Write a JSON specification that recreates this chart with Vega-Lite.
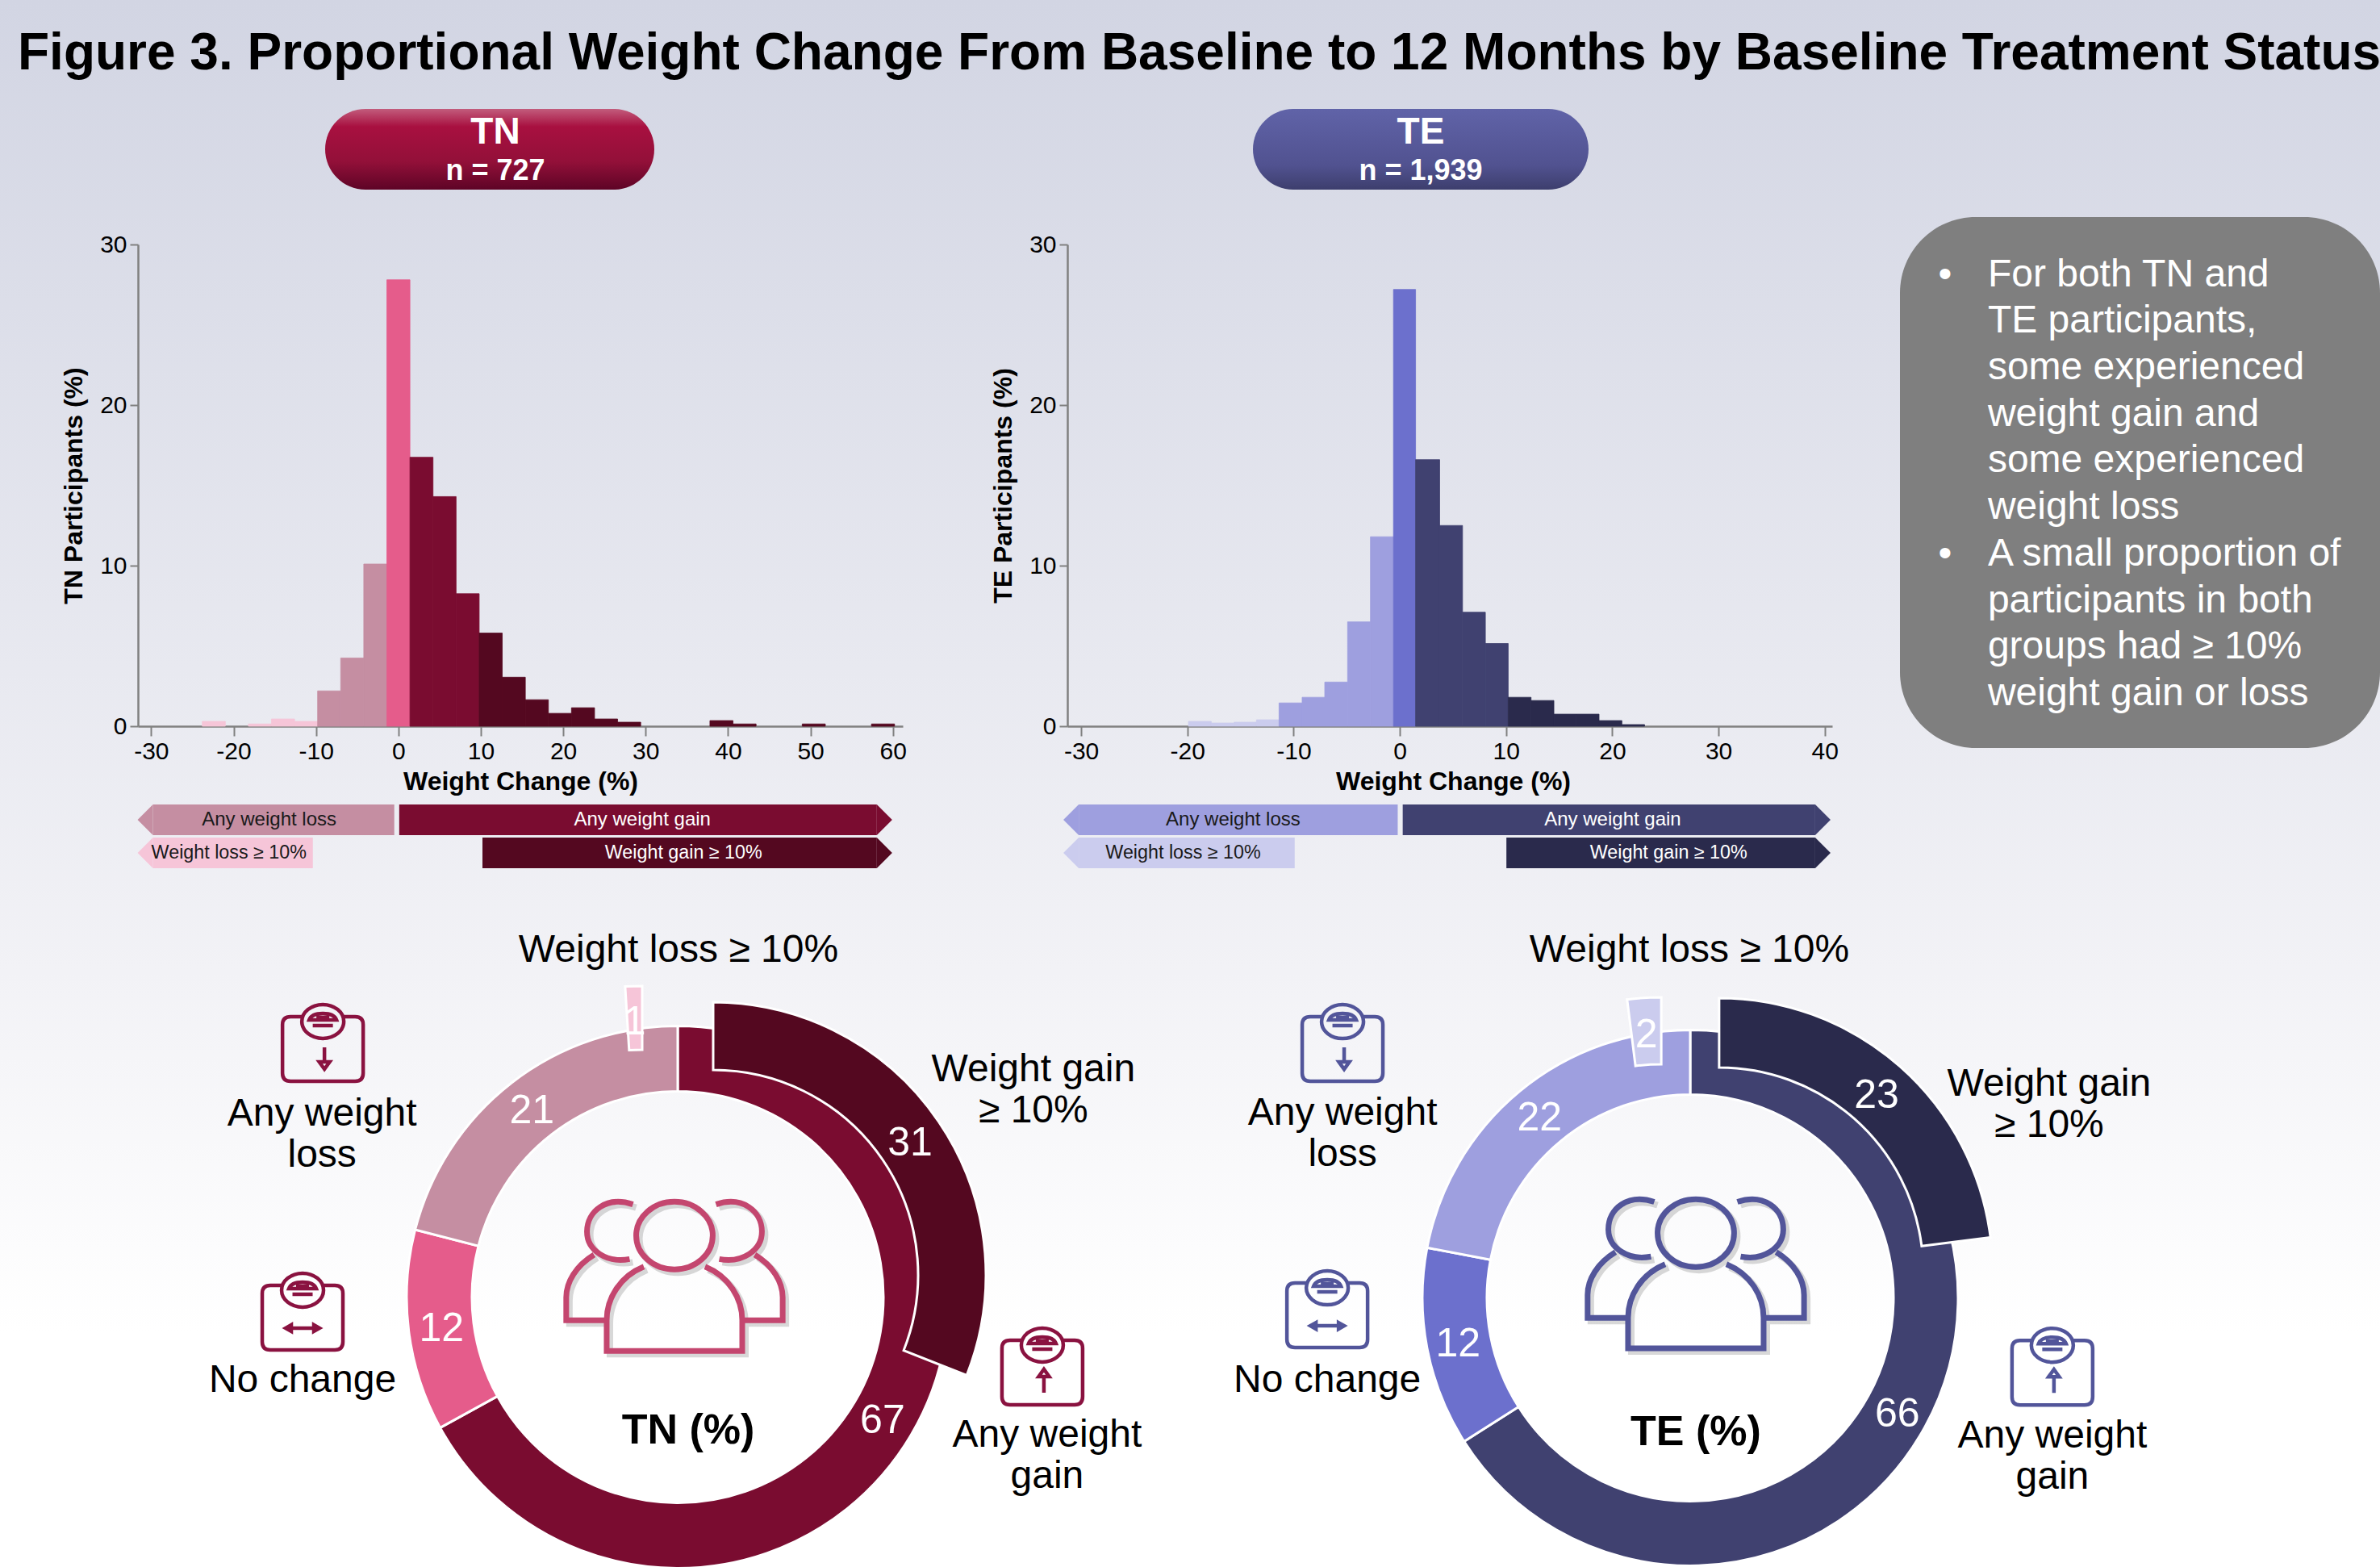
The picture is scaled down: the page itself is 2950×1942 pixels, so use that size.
{
"$schema":"https://vega.github.io/schema/vega-lite/v6.json",
"width":2950,"height":1942,"padding":0,"autosize":"none",
"background":"#ffffff",
"view":{"stroke":null,"fill":{"gradient":"linear","x1":0,"y1":0,"x2":0,"y2":1,"stops":[{"offset":0,"color":"#D2D5E3"},{"offset":0.62,"color":"#F2F2F6"},{"offset":0.85,"color":"#FFFFFF"},{"offset":1,"color":"#FFFFFF"}]}},
"config":{"font":"Liberation Sans","view":{"stroke":null},"axis":{"grid":false,"domainColor":"#808080","tickColor":"#808080","domainWidth":2.5,"tickWidth":2,"labelColor":"#000000","titleColor":"#000000","labelFontSize":30,"titleFontSize":32,"titleFontWeight":"bold","labelOverlap":false,"labelFlush":false,"labelBound":false,"labelExpr":"''+datum.value"}},
"title":{"text":"Figure 3. Proportional Weight Change From Baseline to 12 Months by Baseline Treatment Status","anchor":"start","frame":"group","orient":"top","offset":-150,"dx":22,"baseline":"alphabetic","fontSize":64,"fontWeight":"bold","color":"#000000"},
"resolve":{"scale":{"x":"independent","y":"independent","color":"independent","theta":"independent","shape":"independent","stroke":"independent"},"axis":{"x":"independent","y":"independent"}},
"layer":[
{"data":{"values":[{"group":"TN","n":"n = 727"},{"group":"TE","n":"n = 1,939"}]},
 "encoding":{"x":{"field":"group","type":"nominal","axis":null,"scale":{"domain":["TN","TE"],"range":[-258.5,2626.5],"padding":0.5}},"y":{"field":"group","type":"nominal","axis":null,"scale":{"domain":["TN","TE"],"range":[185,185],"padding":0.5}}},
 "layer":[
 {"transform":[{"filter":"datum.group=='TN'"}],"mark":{"type":"rect","width":408,"height":100,"cornerRadius":50,"fill":{"gradient":"linear","x1":0,"y1":0,"x2":0,"y2":1,"stops":[{"offset":0,"color":"#C25C7C"},{"offset":0.22,"color":"#A81040"},{"offset":0.65,"color":"#931039"},{"offset":1,"color":"#5E0426"}]}}},
 {"transform":[{"filter":"datum.group=='TE'"}],"mark":{"type":"rect","width":416,"height":100,"cornerRadius":50,"fill":{"gradient":"linear","x1":0,"y1":0,"x2":0,"y2":1,"stops":[{"offset":0,"color":"#6063A8"},{"offset":0.7,"color":"#515290"},{"offset":1,"color":"#3D3E6D"}]}}},
 {"transform":[{"filter":"datum.group=='TN'"}],"mark":{"type":"text","dx":7,"dy":-21,"fontSize":46,"fontWeight":"bold","color":"#ffffff","align":"center","baseline":"middle"},"encoding":{"text":{"field":"group"}}},
 {"transform":[{"filter":"datum.group=='TN'"}],"mark":{"type":"text","dx":7,"dy":27,"fontSize":36,"fontWeight":"bold","color":"#ffffff","align":"center","baseline":"middle"},"encoding":{"text":{"field":"n"}}},
 {"transform":[{"filter":"datum.group=='TE'"}],"mark":{"type":"text","dy":-21,"fontSize":46,"fontWeight":"bold","color":"#ffffff","align":"center","baseline":"middle"},"encoding":{"text":{"field":"group"}}},
 {"transform":[{"filter":"datum.group=='TE'"}],"mark":{"type":"text","dy":27,"fontSize":36,"fontWeight":"bold","color":"#ffffff","align":"center","baseline":"middle"},"encoding":{"text":{"field":"n"}}}
 ]},
{"data":{"values":[
{"x0":-23.8,"x1":-21,"pct":0.3,"cat":"Weight loss ≥ 10%"},{"x0":-18.2,"x1":-15.4,"pct":0.14,"cat":"Weight loss ≥ 10%"},{"x0":-15.4,"x1":-12.6,"pct":0.45,"cat":"Weight loss ≥ 10%"},{"x0":-12.6,"x1":-9.8,"pct":0.3,"cat":"Weight loss ≥ 10%"},
{"x0":-9.8,"x1":-7,"pct":2.2,"cat":"Any weight loss"},{"x0":-7,"x1":-4.2,"pct":4.25,"cat":"Any weight loss"},{"x0":-4.2,"x1":-1.4,"pct":10.1,"cat":"Any weight loss"},
{"x0":-1.4,"x1":1.4,"pct":27.8,"cat":"No change"},
{"x0":1.4,"x1":4.2,"pct":16.75,"cat":"Any weight gain"},{"x0":4.2,"x1":7,"pct":14.3,"cat":"Any weight gain"},{"x0":7,"x1":9.8,"pct":8.25,"cat":"Any weight gain"},
{"x0":9.8,"x1":12.6,"pct":5.8,"cat":"Weight gain ≥ 10%"},{"x0":12.6,"x1":15.4,"pct":3.05,"cat":"Weight gain ≥ 10%"},{"x0":15.4,"x1":18.2,"pct":1.65,"cat":"Weight gain ≥ 10%"},{"x0":18.2,"x1":21,"pct":0.8,"cat":"Weight gain ≥ 10%"},{"x0":21,"x1":23.8,"pct":1.15,"cat":"Weight gain ≥ 10%"},{"x0":23.8,"x1":26.6,"pct":0.45,"cat":"Weight gain ≥ 10%"},{"x0":26.6,"x1":29.4,"pct":0.25,"cat":"Weight gain ≥ 10%"},{"x0":37.8,"x1":40.6,"pct":0.35,"cat":"Weight gain ≥ 10%"},{"x0":40.6,"x1":43.4,"pct":0.14,"cat":"Weight gain ≥ 10%"},{"x0":49,"x1":51.8,"pct":0.14,"cat":"Weight gain ≥ 10%"},{"x0":57.4,"x1":60.2,"pct":0.14,"cat":"Weight gain ≥ 10%"}]},
 "mark":{"type":"rect","strokeWidth":0.8},
 "encoding":{
 "x":{"field":"x0","type":"quantitative","scale":{"domain":[-31.6,61.2],"range":[171,1119],"nice":false,"zero":false},"axis":{"orient":"bottom","offset":-1042,"values":[-30,-20,-10,0,10,20,30,40,50,60],"title":"Weight Change (%)","tickSize":12,"labelPadding":4,"titlePadding":7}},
 "x2":{"field":"x1"},
 "y":{"field":"pct","type":"quantitative","scale":{"domain":[0,30],"range":[900,303],"nice":false,"zero":false},"axis":{"orient":"left","offset":-171,"values":[0,10,20,30],"title":"TN Participants (%)","tickSize":10,"labelPadding":4,"titlePadding":15}},
 "y2":{"datum":0},
 "color":{"field":"cat","type":"nominal","legend":null,"scale":{"domain":["Weight loss ≥ 10%","Any weight loss","No change","Any weight gain","Weight gain ≥ 10%"],"range":["#F6C5D8","#C58EA2","#E55C8B","#7A0C30","#540820"]}},
 "stroke":{"field":"cat","type":"nominal","legend":null,"scale":{"domain":["Weight loss ≥ 10%","Any weight loss","No change","Any weight gain","Weight gain ≥ 10%"],"range":["#F6C5D8","#C58EA2","#E55C8B","#7A0C30","#540820"]}}}},
{"data":{"values":[
{"x0":-19.9,"x1":-17.75,"pct":0.3,"cat":"Weight loss ≥ 10%"},{"x0":-17.75,"x1":-15.6,"pct":0.2,"cat":"Weight loss ≥ 10%"},{"x0":-15.6,"x1":-13.5,"pct":0.25,"cat":"Weight loss ≥ 10%"},{"x0":-13.5,"x1":-11.37,"pct":0.4,"cat":"Weight loss ≥ 10%"},
{"x0":-11.37,"x1":-9.2,"pct":1.45,"cat":"Any weight loss"},{"x0":-9.2,"x1":-7.07,"pct":1.8,"cat":"Any weight loss"},{"x0":-7.07,"x1":-4.92,"pct":2.75,"cat":"Any weight loss"},{"x0":-4.92,"x1":-2.77,"pct":6.5,"cat":"Any weight loss"},{"x0":-2.77,"x1":-0.6,"pct":11.8,"cat":"Any weight loss"},
{"x0":-0.6,"x1":1.48,"pct":27.2,"cat":"No change"},
{"x0":1.48,"x1":3.75,"pct":16.6,"cat":"Any weight gain"},{"x0":3.75,"x1":5.9,"pct":12.5,"cat":"Any weight gain"},{"x0":5.9,"x1":8.05,"pct":7.1,"cat":"Any weight gain"},{"x0":8.05,"x1":10.2,"pct":5.15,"cat":"Any weight gain"},
{"x0":10.2,"x1":12.35,"pct":1.8,"cat":"Weight gain ≥ 10%"},{"x0":12.35,"x1":14.5,"pct":1.6,"cat":"Weight gain ≥ 10%"},{"x0":14.5,"x1":16.6,"pct":0.75,"cat":"Weight gain ≥ 10%"},{"x0":16.6,"x1":18.75,"pct":0.75,"cat":"Weight gain ≥ 10%"},{"x0":18.75,"x1":20.9,"pct":0.35,"cat":"Weight gain ≥ 10%"},{"x0":20.9,"x1":23.04,"pct":0.1,"cat":"Weight gain ≥ 10%"}]},
 "mark":{"type":"rect","strokeWidth":0.8},
 "encoding":{
 "x":{"field":"x0","type":"quantitative","scale":{"domain":[-31.3,40.7],"range":[1323,2271],"nice":false,"zero":false},"axis":{"orient":"bottom","offset":-1042,"values":[-30,-20,-10,0,10,20,30,40],"title":"Weight Change (%)","titleX":1801,"tickSize":12,"labelPadding":4,"titlePadding":7}},
 "x2":{"field":"x1"},
 "y":{"field":"pct","type":"quantitative","scale":{"domain":[0,30],"range":[900,303],"nice":false,"zero":false},"axis":{"orient":"left","offset":-1323,"values":[0,10,20,30],"title":"TE Participants (%)","tickSize":10,"labelPadding":4,"titlePadding":15}},
 "y2":{"datum":0},
 "color":{"field":"cat","type":"nominal","legend":null,"scale":{"domain":["Weight loss ≥ 10%","Any weight loss","No change","Any weight gain","Weight gain ≥ 10%"],"range":["#CBCCEE","#9E9FDF","#6C70CD","#404170","#2A2A4C"]}},
 "stroke":{"field":"cat","type":"nominal","legend":null,"scale":{"domain":["Weight loss ≥ 10%","Any weight loss","No change","Any weight gain","Weight gain ≥ 10%"],"range":["#CBCCEE","#9E9FDF","#6C70CD","#404170","#2A2A4C"]}}}},
{"data":{"values":[
{"label":"Any weight loss","row":"any","from":-29.78,"to":-0.5,"at":-15.68,"side":"loss"},
{"label":"Any weight gain","row":"any","from":0.1,"to":58.05,"at":29.6,"side":"gain"},
{"label":"Weight loss ≥ 10%","row":"ge10","from":-29.78,"to":-10.38,"at":-20.56,"side":"loss"},
{"label":"Weight gain ≥ 10%","row":"ge10","from":10.2,"to":58.05,"at":34.6,"side":"gain"}]},
 "encoding":{
 "y":{"field":"row","type":"nominal","axis":null,"scale":{"domain":["any","ge10"],"range":[997,1076],"paddingInner":0.07,"paddingOuter":0}},
 "color":{"field":"label","type":"nominal","legend":null,"scale":{"domain":["Weight loss ≥ 10%","Any weight loss","Any weight gain","Weight gain ≥ 10%"],"range":["#F6C5D8","#C58EA2","#7A0C30","#540820"]}}},
 "layer":[
 {"mark":{"type":"rect"},"encoding":{"x":{"field":"from","type":"quantitative","axis":null,"scale":{"domain":[-31.6,61.2],"range":[171,1119],"nice":false,"zero":false}},"x2":{"field":"to"}}},
 {"transform":[{"filter":"datum.side=='loss'"}],"mark":{"type":"point","filled":true,"opacity":1,"size":1444,"shape":"M-1,0 L0,-1 L0,1 Z"},"encoding":{"x":{"field":"from","type":"quantitative","axis":null}}},
 {"transform":[{"filter":"datum.side=='gain'"}],"mark":{"type":"point","filled":true,"opacity":1,"size":1444,"shape":"M1,0 L0,-1 L0,1 Z"},"encoding":{"x":{"field":"to","type":"quantitative","axis":null}}},
 {"transform":[{"filter":"datum.row=='any'"}],"mark":{"type":"text","fontSize":24,"align":"center","baseline":"middle"},"encoding":{"x":{"field":"at","type":"quantitative","axis":null},"text":{"field":"label"},"color":{"condition":{"test":"datum.side=='gain'","value":"#ffffff"},"value":"#1a1a1a"}}},
 {"transform":[{"filter":"datum.row=='ge10'"}],"mark":{"type":"text","fontSize":23.3,"align":"center","baseline":"middle"},"encoding":{"x":{"field":"at","type":"quantitative","axis":null},"text":{"field":"label"},"color":{"condition":{"test":"datum.side=='gain'","value":"#ffffff"},"value":"#1a1a1a"}}}
 ]},
{"data":{"values":[
{"label":"Any weight loss","row":"any","from":-30.23,"to":-0.2,"at":-15.7,"side":"loss"},
{"label":"Any weight gain","row":"any","from":0.27,"to":39.1,"at":20.04,"side":"gain"},
{"label":"Weight loss ≥ 10%","row":"ge10","from":-30.23,"to":-9.9,"at":-20.4,"side":"loss"},
{"label":"Weight gain ≥ 10%","row":"ge10","from":10.03,"to":39.1,"at":25.3,"side":"gain"}]},
 "encoding":{
 "y":{"field":"row","type":"nominal","axis":null,"scale":{"domain":["any","ge10"],"range":[997,1076],"paddingInner":0.07,"paddingOuter":0}},
 "color":{"field":"label","type":"nominal","legend":null,"scale":{"domain":["Weight loss ≥ 10%","Any weight loss","Any weight gain","Weight gain ≥ 10%"],"range":["#CBCCEE","#9E9FDF","#404170","#2A2A4C"]}}},
 "layer":[
 {"mark":{"type":"rect"},"encoding":{"x":{"field":"from","type":"quantitative","axis":null,"scale":{"domain":[-31.3,40.7],"range":[1323,2271],"nice":false,"zero":false}},"x2":{"field":"to"}}},
 {"transform":[{"filter":"datum.side=='loss'"}],"mark":{"type":"point","filled":true,"opacity":1,"size":1444,"shape":"M-1,0 L0,-1 L0,1 Z"},"encoding":{"x":{"field":"from","type":"quantitative","axis":null}}},
 {"transform":[{"filter":"datum.side=='gain'"}],"mark":{"type":"point","filled":true,"opacity":1,"size":1444,"shape":"M1,0 L0,-1 L0,1 Z"},"encoding":{"x":{"field":"to","type":"quantitative","axis":null}}},
 {"transform":[{"filter":"datum.row=='any'"}],"mark":{"type":"text","fontSize":24,"align":"center","baseline":"middle"},"encoding":{"x":{"field":"at","type":"quantitative","axis":null},"text":{"field":"label"},"color":{"condition":{"test":"datum.side=='gain'","value":"#ffffff"},"value":"#1a1a1a"}}},
 {"transform":[{"filter":"datum.row=='ge10'"}],"mark":{"type":"text","fontSize":23.3,"align":"center","baseline":"middle"},"encoding":{"x":{"field":"at","type":"quantitative","axis":null},"text":{"field":"label"},"color":{"condition":{"test":"datum.side=='gain'","value":"#ffffff"},"value":"#1a1a1a"}}}
 ]},
{"data":{"values":[
{"line":1,"text":"For both TN and","bullet":"•"},{"line":2,"text":"TE participants,"},{"line":3,"text":"some experienced"},{"line":4,"text":"weight gain and"},{"line":5,"text":"some experienced"},{"line":6,"text":"weight loss"},
{"line":7,"text":"A small proportion of","bullet":"•"},{"line":8,"text":"participants in both"},{"line":9,"text":"groups had ≥ 10%"},{"line":10,"text":"weight gain or loss"}]},
 "encoding":{"y":{"field":"line","type":"quantitative","axis":null,"scale":{"domain":[1,10],"range":[340.6,860],"nice":false,"zero":false}}},
 "layer":[
 {"transform":[{"filter":"datum.line==1"}],"mark":{"type":"rect","fill":"#7F7F7F","cornerRadius":94},"encoding":{"x":{"datum":0,"type":"quantitative","axis":null,"scale":{"domain":[0,1],"range":[2355,2950],"nice":false,"zero":false}},"x2":{"datum":1},"y":{"datum":-0.24,"type":"quantitative","axis":null},"y2":{"datum":11.16}}},
 {"mark":{"type":"text","fontSize":48,"color":"#ffffff","align":"left","baseline":"middle"},"encoding":{"x":{"datum":0.183,"type":"quantitative","axis":null},"text":{"field":"text"}}},
 {"transform":[{"filter":"isValid(datum.bullet)"}],"mark":{"type":"text","fontSize":48,"color":"#ffffff","align":"center","baseline":"middle"},"encoding":{"x":{"datum":0.094,"type":"quantitative","axis":null},"text":{"field":"bullet"}}}
 ]},
{"resolve":{"scale":{"theta":"independent","color":"independent"}},
 "layer":[
 {"data":{"values":[{"segment":"Any weight gain","value":67,"ord":1},{"segment":"No change","value":12,"ord":2},{"segment":"Any weight loss","value":21,"ord":3}]},
  "encoding":{
  "x":{"datum":0,"type":"quantitative","axis":null,"scale":{"domain":[-1,1],"range":[505,1175],"nice":false,"zero":false}},
  "y":{"datum":0,"type":"quantitative","axis":null,"scale":{"domain":[-1,1],"range":[1942.5,1272.5],"nice":false,"zero":false}},
  "theta":{"field":"value","type":"quantitative","stack":true,"scale":{"domain":[0,100],"range":[0,6.28319]}},
  "order":{"field":"ord","type":"ordinal"}},
  "layer":[
  {"mark":{"type":"arc","radius":336,"radius2":255,"stroke":"#ffffff","strokeWidth":3},"encoding":{"color":{"field":"segment","type":"nominal","legend":null,"scale":{"domain":["Any weight gain","No change","Any weight loss"],"range":["#7A0C30","#E55C8B","#C58EA2"]}}}},
  {"mark":{"type":"text","radius":295,"dy":3,"fontSize":50,"color":"#ffffff","align":"center","baseline":"middle"},"encoding":{"text":{"field":"value","type":"quantitative"}}}
  ]},
 {"data":{"values":[{"segment":"Weight gain ≥ 10%","value":31}]},
  "encoding":{
  "x":{"datum":0.1313,"type":"quantitative","axis":null},
  "y":{"datum":0.082,"type":"quantitative","axis":null},
  "theta":{"field":"value","type":"quantitative","stack":true,"scale":{"domain":[0,100],"range":[0,6.28319]}}},
  "layer":[
  {"mark":{"type":"arc","radius":338,"radius2":254,"stroke":"#ffffff","strokeWidth":3,"fill":"#540820"}},
  {"mark":{"type":"text","radius":295,"dy":3,"fontSize":50,"color":"#ffffff","align":"center","baseline":"middle"},"encoding":{"text":{"field":"value","type":"quantitative"}}}
  ]},
 {"data":{"values":[{"segment":"Weight loss ≥ 10%","value":1}]},
  "encoding":{
  "x":{"datum":-0.1313,"type":"quantitative","axis":null},
  "y":{"datum":0.145,"type":"quantitative","axis":null},
  "theta":{"field":"value","type":"quantitative","stack":true,"scale":{"domain":[0,100],"range":[6.28319,0]}}},
  "layer":[
  {"mark":{"type":"arc","radius":337,"radius2":258,"stroke":"#ffffff","strokeWidth":3,"fill":"#F6C5D8"}},
  {"mark":{"type":"text","radius":295,"dy":3,"fontSize":50,"color":"#ffffff","align":"center","baseline":"middle"},"encoding":{"text":{"field":"value","type":"quantitative"}}}
  ]},
 {"data":{"values":[
  {"label":"Weight loss ≥ 10%","rx":0.003,"ry":1.282},
  {"label":"Any weight\nloss","rx":-1.316,"ry":0.677},
  {"label":"No change","rx":-1.388,"ry":-0.309},
  {"label":"Weight gain\n≥ 10%","rx":1.316,"ry":0.839},
  {"label":"Any weight\ngain","rx":1.367,"ry":-0.511}]},
  "mark":{"type":"text","fontSize":48,"lineBreak":"\n","lineHeight":51,"color":"#000000","align":"center","baseline":"middle"},
  "encoding":{"x":{"field":"rx","type":"quantitative","axis":null},"y":{"field":"ry","type":"quantitative","axis":null},"text":{"field":"label"}}},
 {"data":{"values":[{"label":"TN (%)","rx":0.039,"ry":-0.494}]},
  "mark":{"type":"text","fontSize":52,"fontWeight":"bold","color":"#000000","align":"center","baseline":"middle"},
  "encoding":{"x":{"field":"rx","type":"quantitative","axis":null},"y":{"field":"ry","type":"quantitative","axis":null},"text":{"field":"label"}}},
 {"data":{"values":[{"icon":"loss","rx":-1.313,"ry":0.918},{"icon":"none","rx":-1.388,"ry":-0.076},{"icon":"gain","rx":1.349,"ry":-0.279}]},
  "mark":{"type":"point","filled":false,"opacity":1,"size":10000,"strokeWidth":4.5,"color":"#8A1240"},
  "encoding":{"x":{"field":"rx","type":"quantitative","axis":null},"y":{"field":"ry","type":"quantitative","axis":null},
  "shape":{"field":"icon","type":"nominal","legend":null,"scale":{"domain":["loss","none","gain"],"range":[
  "M-0.51,-0.8 L-0.8,-0.8 Q-1,-0.8 -1,-0.6 L-1,0.6 Q-1,0.8 -0.8,0.8 L0.8,0.8 Q1,0.8 1,0.6 L1,-0.6 Q1,-0.8 0.8,-0.8 L0.51,-0.8 M-0.52,-0.68 A0.52,0.42 0 1 1 0.52,-0.68 A0.52,0.42 0 1 1 -0.52,-0.68 Z M-0.34,-0.72 Q-0.28,-0.88 0,-0.88 Q0.28,-0.88 0.34,-0.72 Z M-0.16,-0.78 L0.16,-0.78 M-0.25,-0.58 L0.25,-0.58 M0.04,-0.04 L0.04,0.3 M-0.09,0.32 L0.04,0.5 L0.17,0.32 Z",
  "M-0.51,-0.8 L-0.8,-0.8 Q-1,-0.8 -1,-0.6 L-1,0.6 Q-1,0.8 -0.8,0.8 L0.8,0.8 Q1,0.8 1,0.6 L1,-0.6 Q1,-0.8 0.8,-0.8 L0.51,-0.8 M-0.52,-0.68 A0.52,0.42 0 1 1 0.52,-0.68 A0.52,0.42 0 1 1 -0.52,-0.68 Z M-0.34,-0.72 Q-0.28,-0.88 0,-0.88 Q0.28,-0.88 0.34,-0.72 Z M-0.16,-0.78 L0.16,-0.78 M-0.25,-0.58 L0.25,-0.58 M-0.35,0.26 L0.35,0.26 M-0.28,0.18 L-0.42,0.26 L-0.28,0.34 Z M0.28,0.18 L0.42,0.26 L0.28,0.34 Z",
  "M-0.51,-0.8 L-0.8,-0.8 Q-1,-0.8 -1,-0.6 L-1,0.6 Q-1,0.8 -0.8,0.8 L0.8,0.8 Q1,0.8 1,0.6 L1,-0.6 Q1,-0.8 0.8,-0.8 L0.51,-0.8 M-0.52,-0.68 A0.52,0.42 0 1 1 0.52,-0.68 A0.52,0.42 0 1 1 -0.52,-0.68 Z M-0.34,-0.72 Q-0.28,-0.88 0,-0.88 Q0.28,-0.88 0.34,-0.72 Z M-0.16,-0.78 L0.16,-0.78 M-0.25,-0.58 L0.25,-0.58 M0.04,0.5 L0.04,0.12 M-0.09,0.1 L0.04,-0.08 L0.17,0.1 Z"]}}}},
 {"data":{"values":[{"icon":"people","rx":-0.012,"ry":0.076}]},
  "mark":{"type":"point","filled":false,"opacity":0.45,"size":73441,"strokeWidth":8,"color":"#A9A9A9","xOffset":4,"yOffset":4,"shape":"M-0.35,-0.375 A0.35,0.31 0 1 1 0.35,-0.375 A0.35,0.31 0 1 1 -0.35,-0.375 Z M-0.28,-0.09 C-0.5,0 -0.62,0.2 -0.62,0.4 L-0.62,0.68 L0.62,0.68 L0.62,0.4 C0.62,0.2 0.5,0 0.28,-0.09 M-0.38,-0.66 C-0.62,-0.74 -0.8,-0.6 -0.8,-0.41 C-0.8,-0.24 -0.62,-0.12 -0.41,-0.16 M-0.735,-0.2 C-0.9,-0.1 -0.99,0.05 -0.99,0.19 L-0.99,0.4 L-0.62,0.4 M0.38,-0.66 C0.62,-0.74 0.8,-0.6 0.8,-0.41 C0.8,-0.24 0.62,-0.12 0.41,-0.16 M0.735,-0.2 C0.9,-0.1 0.99,0.05 0.99,0.19 L0.99,0.4 L0.62,0.4"},
  "encoding":{"x":{"field":"rx","type":"quantitative","axis":null},"y":{"field":"ry","type":"quantitative","axis":null}}},
 {"data":{"values":[{"icon":"people","rx":-0.012,"ry":0.076}]},
  "mark":{"type":"point","filled":false,"opacity":1,"size":73441,"strokeWidth":7,"color":"#C4466F","shape":"M-0.35,-0.375 A0.35,0.31 0 1 1 0.35,-0.375 A0.35,0.31 0 1 1 -0.35,-0.375 Z M-0.28,-0.09 C-0.5,0 -0.62,0.2 -0.62,0.4 L-0.62,0.68 L0.62,0.68 L0.62,0.4 C0.62,0.2 0.5,0 0.28,-0.09 M-0.38,-0.66 C-0.62,-0.74 -0.8,-0.6 -0.8,-0.41 C-0.8,-0.24 -0.62,-0.12 -0.41,-0.16 M-0.735,-0.2 C-0.9,-0.1 -0.99,0.05 -0.99,0.19 L-0.99,0.4 L-0.62,0.4 M0.38,-0.66 C0.62,-0.74 0.8,-0.6 0.8,-0.41 C0.8,-0.24 0.62,-0.12 0.41,-0.16 M0.735,-0.2 C0.9,-0.1 0.99,0.05 0.99,0.19 L0.99,0.4 L0.62,0.4"},
  "encoding":{"x":{"field":"rx","type":"quantitative","axis":null},"y":{"field":"ry","type":"quantitative","axis":null}}}
 ]},
{"resolve":{"scale":{"theta":"independent","color":"independent"}},
 "layer":[
 {"data":{"values":[{"segment":"Any weight gain","value":66,"ord":1},{"segment":"No change","value":12,"ord":2},{"segment":"Any weight loss","value":22,"ord":3}]},
  "encoding":{
  "x":{"datum":0,"type":"quantitative","axis":null,"scale":{"domain":[-1,1],"range":[1763,2427],"nice":false,"zero":false}},
  "y":{"datum":0,"type":"quantitative","axis":null,"scale":{"domain":[-1,1],"range":[1940.5,1276.5],"nice":false,"zero":false}},
  "theta":{"field":"value","type":"quantitative","stack":true,"scale":{"domain":[0,100],"range":[0,6.28319]}},
  "order":{"field":"ord","type":"ordinal"}},
  "layer":[
  {"mark":{"type":"arc","radius":332,"radius2":252,"stroke":"#ffffff","strokeWidth":3},"encoding":{"color":{"field":"segment","type":"nominal","legend":null,"scale":{"domain":["Any weight gain","No change","Any weight loss"],"range":["#404170","#6C70CD","#9E9FDF"]}}}},
  {"mark":{"type":"text","radius":293,"dy":3,"fontSize":50,"color":"#ffffff","align":"center","baseline":"middle"},"encoding":{"text":{"field":"value","type":"quantitative"}}}
  ]},
 {"data":{"values":[{"segment":"Weight gain ≥ 10%","value":23}]},
  "encoding":{
  "x":{"datum":0.108,"type":"quantitative","axis":null},
  "y":{"datum":0.098,"type":"quantitative","axis":null},
  "theta":{"field":"value","type":"quantitative","stack":true,"scale":{"domain":[0,100],"range":[0,6.28319]}}},
  "layer":[
  {"mark":{"type":"arc","radius":339,"radius2":253,"stroke":"#ffffff","strokeWidth":3,"fill":"#2A2A4C"}},
  {"mark":{"type":"text","radius":295,"dy":3,"fontSize":50,"color":"#ffffff","align":"center","baseline":"middle"},"encoding":{"text":{"field":"value","type":"quantitative"}}}
  ]},
 {"data":{"values":[{"segment":"Weight loss ≥ 10%","value":2}]},
  "encoding":{
  "x":{"datum":-0.108,"type":"quantitative","axis":null},
  "y":{"datum":0.104,"type":"quantitative","axis":null},
  "theta":{"field":"value","type":"quantitative","stack":true,"scale":{"domain":[0,100],"range":[6.28319,0]}}},
  "layer":[
  {"mark":{"type":"arc","radius":338,"radius2":255,"stroke":"#ffffff","strokeWidth":3,"fill":"#CBCCEE"}},
  {"mark":{"type":"text","radius":295,"dy":3,"fontSize":50,"color":"#ffffff","align":"center","baseline":"middle"},"encoding":{"text":{"field":"value","type":"quantitative"}}}
  ]},
 {"data":{"values":[
  {"label":"Weight loss ≥ 10%","rx":-0.003,"ry":1.297},
  {"label":"Any weight\nloss","rx":-1.298,"ry":0.687},
  {"label":"No change","rx":-1.355,"ry":-0.309},
  {"label":"Weight gain\n≥ 10%","rx":1.34,"ry":0.798},
  {"label":"Any weight\ngain","rx":1.352,"ry":-0.518}]},
  "mark":{"type":"text","fontSize":48,"lineBreak":"\n","lineHeight":51,"color":"#000000","align":"center","baseline":"middle"},
  "encoding":{"x":{"field":"rx","type":"quantitative","axis":null},"y":{"field":"ry","type":"quantitative","axis":null},"text":{"field":"label"}}},
 {"data":{"values":[{"label":"TE (%)","rx":0.021,"ry":-0.501}]},
  "mark":{"type":"text","fontSize":52,"fontWeight":"bold","color":"#000000","align":"center","baseline":"middle"},
  "encoding":{"x":{"field":"rx","type":"quantitative","axis":null},"y":{"field":"ry","type":"quantitative","axis":null},"text":{"field":"label"}}},
 {"data":{"values":[{"icon":"loss","rx":-1.298,"ry":0.929},{"icon":"none","rx":-1.355,"ry":-0.065},{"icon":"gain","rx":1.352,"ry":-0.279}]},
  "mark":{"type":"point","filled":false,"opacity":1,"size":10000,"strokeWidth":4.5,"color":"#52559A"},
  "encoding":{"x":{"field":"rx","type":"quantitative","axis":null},"y":{"field":"ry","type":"quantitative","axis":null},
  "shape":{"field":"icon","type":"nominal","legend":null,"scale":{"domain":["loss","none","gain"],"range":[
  "M-0.51,-0.8 L-0.8,-0.8 Q-1,-0.8 -1,-0.6 L-1,0.6 Q-1,0.8 -0.8,0.8 L0.8,0.8 Q1,0.8 1,0.6 L1,-0.6 Q1,-0.8 0.8,-0.8 L0.51,-0.8 M-0.52,-0.68 A0.52,0.42 0 1 1 0.52,-0.68 A0.52,0.42 0 1 1 -0.52,-0.68 Z M-0.34,-0.72 Q-0.28,-0.88 0,-0.88 Q0.28,-0.88 0.34,-0.72 Z M-0.16,-0.78 L0.16,-0.78 M-0.25,-0.58 L0.25,-0.58 M0.04,-0.04 L0.04,0.3 M-0.09,0.32 L0.04,0.5 L0.17,0.32 Z",
  "M-0.51,-0.8 L-0.8,-0.8 Q-1,-0.8 -1,-0.6 L-1,0.6 Q-1,0.8 -0.8,0.8 L0.8,0.8 Q1,0.8 1,0.6 L1,-0.6 Q1,-0.8 0.8,-0.8 L0.51,-0.8 M-0.52,-0.68 A0.52,0.42 0 1 1 0.52,-0.68 A0.52,0.42 0 1 1 -0.52,-0.68 Z M-0.34,-0.72 Q-0.28,-0.88 0,-0.88 Q0.28,-0.88 0.34,-0.72 Z M-0.16,-0.78 L0.16,-0.78 M-0.25,-0.58 L0.25,-0.58 M-0.35,0.26 L0.35,0.26 M-0.28,0.18 L-0.42,0.26 L-0.28,0.34 Z M0.28,0.18 L0.42,0.26 L0.28,0.34 Z",
  "M-0.51,-0.8 L-0.8,-0.8 Q-1,-0.8 -1,-0.6 L-1,0.6 Q-1,0.8 -0.8,0.8 L0.8,0.8 Q1,0.8 1,0.6 L1,-0.6 Q1,-0.8 0.8,-0.8 L0.51,-0.8 M-0.52,-0.68 A0.52,0.42 0 1 1 0.52,-0.68 A0.52,0.42 0 1 1 -0.52,-0.68 Z M-0.34,-0.72 Q-0.28,-0.88 0,-0.88 Q0.28,-0.88 0.34,-0.72 Z M-0.16,-0.78 L0.16,-0.78 M-0.25,-0.58 L0.25,-0.58 M0.04,0.5 L0.04,0.12 M-0.09,0.1 L0.04,-0.08 L0.17,0.1 Z"]}}}},
 {"data":{"values":[{"icon":"people","rx":0.021,"ry":0.089}]},
  "mark":{"type":"point","filled":false,"opacity":0.45,"size":73441,"strokeWidth":8,"color":"#A9A9A9","xOffset":4,"yOffset":4,"shape":"M-0.35,-0.375 A0.35,0.31 0 1 1 0.35,-0.375 A0.35,0.31 0 1 1 -0.35,-0.375 Z M-0.28,-0.09 C-0.5,0 -0.62,0.2 -0.62,0.4 L-0.62,0.68 L0.62,0.68 L0.62,0.4 C0.62,0.2 0.5,0 0.28,-0.09 M-0.38,-0.66 C-0.62,-0.74 -0.8,-0.6 -0.8,-0.41 C-0.8,-0.24 -0.62,-0.12 -0.41,-0.16 M-0.735,-0.2 C-0.9,-0.1 -0.99,0.05 -0.99,0.19 L-0.99,0.4 L-0.62,0.4 M0.38,-0.66 C0.62,-0.74 0.8,-0.6 0.8,-0.41 C0.8,-0.24 0.62,-0.12 0.41,-0.16 M0.735,-0.2 C0.9,-0.1 0.99,0.05 0.99,0.19 L0.99,0.4 L0.62,0.4"},
  "encoding":{"x":{"field":"rx","type":"quantitative","axis":null},"y":{"field":"ry","type":"quantitative","axis":null}}},
 {"data":{"values":[{"icon":"people","rx":0.021,"ry":0.089}]},
  "mark":{"type":"point","filled":false,"opacity":1,"size":73441,"strokeWidth":7,"color":"#52559A","shape":"M-0.35,-0.375 A0.35,0.31 0 1 1 0.35,-0.375 A0.35,0.31 0 1 1 -0.35,-0.375 Z M-0.28,-0.09 C-0.5,0 -0.62,0.2 -0.62,0.4 L-0.62,0.68 L0.62,0.68 L0.62,0.4 C0.62,0.2 0.5,0 0.28,-0.09 M-0.38,-0.66 C-0.62,-0.74 -0.8,-0.6 -0.8,-0.41 C-0.8,-0.24 -0.62,-0.12 -0.41,-0.16 M-0.735,-0.2 C-0.9,-0.1 -0.99,0.05 -0.99,0.19 L-0.99,0.4 L-0.62,0.4 M0.38,-0.66 C0.62,-0.74 0.8,-0.6 0.8,-0.41 C0.8,-0.24 0.62,-0.12 0.41,-0.16 M0.735,-0.2 C0.9,-0.1 0.99,0.05 0.99,0.19 L0.99,0.4 L0.62,0.4"},
  "encoding":{"x":{"field":"rx","type":"quantitative","axis":null},"y":{"field":"ry","type":"quantitative","axis":null}}}
 ]}
]}
